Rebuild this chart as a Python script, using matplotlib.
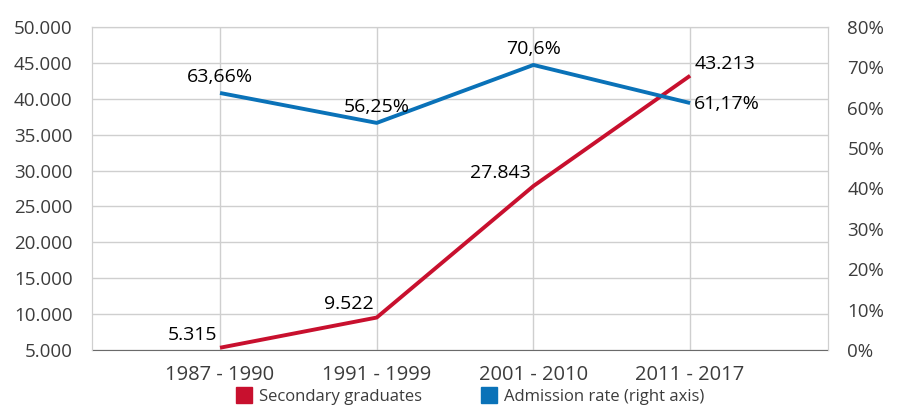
import matplotlib
matplotlib.use("Agg")
import matplotlib.pyplot as plt
from matplotlib.lines import Line2D

plt.rcParams['font.family'] = ['Open Sans', 'DejaVu Sans']

periods = ["1987 - 1990", "1991 - 1999", "2001 - 2010", "2011 - 2017"]
graduates = [5315, 9522, 27843, 43213]
admission = [63.66, 56.25, 70.6, 61.17]
grad_labels = ["5.315", "9.522", "27.843", "43.213"]
adm_labels = ["63,66%", "56,25%", "70,6%", "61,17%"]
left_ticks = [5000, 10000, 15000, 20000, 25000, 30000, 35000, 40000, 45000, 50000]
left_tick_labels = ["5.000", "10.000", "15.000", "20.000", "25.000", "30.000", "35.000", "40.000", "45.000", "50.000"]
right_ticks = [0, 10, 20, 30, 40, 50, 60, 70, 80]
right_tick_labels = ["0%", "10%", "20%", "30%", "40%", "50%", "60%", "70%", "80%"]

RED = "#c8102e"
BLUE = "#0a72b8"
GRID = "#cfcfcf"
TXT = "#3c3c3c"

fig = plt.figure(figsize=(9.07, 4.13), dpi=100)
ax = fig.add_axes([92/907, 1-350/413, (828-92)/907, (350-27)/413])
ax2 = ax.twinx()

x = list(range(len(periods)))
ax.set_xlim(-0.817, 3.88)
ax.set_ylim(5000, 50000)
ax2.set_ylim(0, 80)

ax.set_yticks(left_ticks)
ax.set_yticklabels(left_tick_labels)
ax2.set_yticks(right_ticks)
ax2.set_yticklabels(right_tick_labels)
ax.set_xticks(x)
ax.set_xticklabels(periods)

ax.grid(True, axis='both', color=GRID, linewidth=1.0)
ax.set_axisbelow(True)
for side in ['left', 'top', 'right']:
    ax.spines[side].set_color(GRID)
    ax2.spines[side].set_color(GRID)
ax.spines['bottom'].set_color("#6a6a6a")
ax2.spines['bottom'].set_visible(False)
ax.tick_params(axis='y', length=0, labelsize=13.5, colors=TXT, pad=14)
ax.tick_params(axis='x', length=0, labelsize=14.5, colors=TXT, pad=11)
ax2.tick_params(axis='y', length=0, labelsize=13.5, colors=TXT, pad=14)

ax.plot(x, graduates, color=RED, linewidth=2.8, solid_capstyle='butt', zorder=3)
ax2.plot(x, admission, color=BLUE, linewidth=2.8, solid_capstyle='butt', zorder=3)

fs = 14
# Graduate labels
ax.annotate(grad_labels[0], (x[0], graduates[0]), xytext=(-2, 3), textcoords='offset points',
            ha='right', va='bottom', fontsize=fs, color='black')
ax.annotate(grad_labels[1], (x[1], graduates[1]), xytext=(-2, 3), textcoords='offset points',
            ha='right', va='bottom', fontsize=fs, color='black')
ax.annotate(grad_labels[2], (x[2], graduates[2]), xytext=(-2, 3), textcoords='offset points',
            ha='right', va='bottom', fontsize=fs, color='black')
ax.annotate(grad_labels[3], (x[3], graduates[3]), xytext=(3, 2), textcoords='offset points',
            ha='left', va='bottom', fontsize=fs, color='black')
# Admission labels
for i in range(3):
    ax2.annotate(adm_labels[i], (x[i], admission[i]), xytext=(0, 5), textcoords='offset points',
                 ha='center', va='bottom', fontsize=fs, color='black')
ax2.annotate(adm_labels[3], (x[3], admission[3]), xytext=(3, -1), textcoords='offset points',
             ha='left', va='center', fontsize=fs, color='black')

handles = [Line2D([0], [0], marker='s', linestyle='none', markersize=11, markerfacecolor=RED, markeredgecolor=RED),
           Line2D([0], [0], marker='s', linestyle='none', markersize=11, markerfacecolor=BLUE, markeredgecolor=BLUE)]
leg = fig.legend(handles, ["Secondary graduates", "Admission rate (right axis)"], loc='center',
                 bbox_to_anchor=(470/907, 1-397/413), ncol=2, frameon=False, fontsize=12,
                 handletextpad=0.4, columnspacing=3.5, handlelength=1.0)
for t in leg.get_texts():
    t.set_color(TXT)

fig.savefig("out.png", dpi=100)
